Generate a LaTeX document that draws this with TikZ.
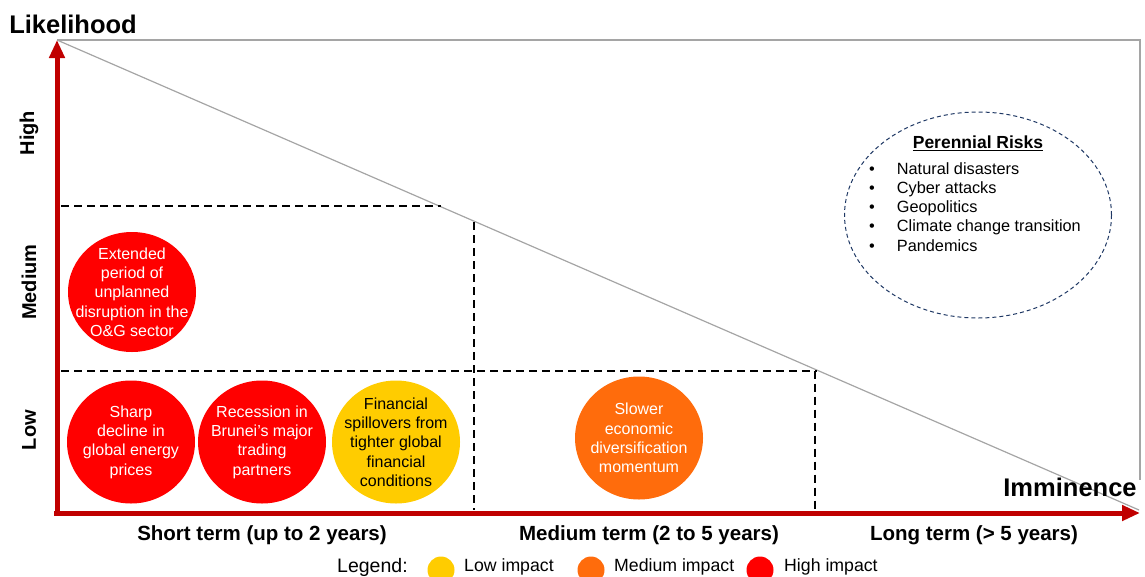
\documentclass[tikz,border=0pt]{standalone}
\usepackage{fontspec}
\setmainfont{Liberation Sans}
\usetikzlibrary{shapes.geometric, positioning, arrows.meta}
\definecolor{RiskRed}{RGB}{255,0,0}
\definecolor{RiskOrange}{RGB}{255,108,12}
\definecolor{RiskYellow}{RGB}{255,204,0}
\definecolor{AxisRed}{RGB}{192,0,0}
\definecolor{RiskNavy}{RGB}{31,56,100}
\definecolor{FrameGray}{RGB}{165,165,165}

\tikzset{
  risk/.style={ellipse, minimum width=128pt, minimum height=123pt,
               inner sep=0pt},
  highrisk/.style={risk, fill=RiskRed},
  midrisk/.style={risk, fill=RiskOrange},
  lowrisk/.style={risk, fill=RiskYellow},
  risktext/.style={align=center, inner sep=0pt,
                   font=\fontsize{16}{19.3}\selectfont},
  axisline/.style={AxisRed, line width=5pt,
                   -{Triangle[length=18pt,width=15pt]}},
  cellline/.style={line width=2pt, dash pattern=on 8pt off 5pt},
  levellabel/.style={rotate=90, font=\fontsize{20}{24}\selectfont\bfseries},
  termlabel/.style={font=\fontsize{20.5}{24}\selectfont\bfseries},
  axislabel/.style={font=\fontsize{25.5}{30}\selectfont\bfseries},
  keydot/.style={circle, minimum size=27pt, inner sep=0pt},
  keytext/.style={anchor=west, inner sep=0pt, font=\fontsize{17.7}{21}\selectfont}
}

\begin{document}
\begin{tikzpicture}[x=1pt, y=-1pt]
        \useasboundingbox (0,0) rectangle (1145,576);

        % frame and diagonal
        \coordinate (O) at (57,513);
        \coordinate (ytop) at (57,40);
        \coordinate (xend) at (1140,513);
        \coordinate (corner) at (1140,40);
        \draw[FrameGray, line width=1.2pt] (ytop) -- (corner) -- (1140,480);
        \draw[FrameGray, line width=1.2pt] (ytop) -- (1139,510);

        % grid of the matrix
        \draw[cellline] (61,205.5) -- (441,205.5);
        \draw[cellline] (61,370.5) -- (817,370.5);
        \draw[cellline] (474,222) -- (474,510);
        \draw[cellline] (815,370.5) -- (815,510);

        % axes
        \draw[axisline] (57,515) -- (ytop);
        \draw[axisline] (54,513) -- (xend);

        \node[axislabel] (like) at (73,24) {Likelihood};
        \node[axislabel] (imm) at (1070,487) {Imminence};

        \node[levellabel] (hi) at (29,133) {High};
        \node[levellabel] (me) at (29,282) {Medium};
        \node[levellabel] (lo) at (29,430) {Low};

        \node[termlabel] (st) at (262,535) {Short term (up to 2 years)};
        \node[termlabel] (mt) at (649,535) {Medium term (2 to 5 years)};
        \node[termlabel] (lt) at (974,535) {Long term (> 5 years)};

        % risks
        \node[highrisk, minimum height=120pt] (ogs) at (132,292) {};
        \node[risktext, text=white] (ogs-t) at (ogs)
              {Extended\\period of\\unplanned\\disruption in the\\O\&G sector};
        \node[highrisk] (oil) at (131,442) {};
        \node[risktext, text=white] (oil-t) at (oil)
              {Sharp\\decline in\\global energy\\prices};
        \node[highrisk] (rec) at (262,442) {};
        \node[risktext, text=white] (rec-t) at (rec)
              {Recession in\\Brunei’s major\\trading\\partners};
        \node[lowrisk] (fin) at (396,442) {};
        \node[risktext] (fin-t) at (fin)
              {Financial\\spillovers from\\tighter global\\financial\\conditions};
        \node[midrisk] (div) at (639,438) {};
        \node[risktext, text=white] (div-t) at (div)
              {Slower\\economic\\diversification\\momentum};

        % perennial risks
        \node[ellipse, draw=RiskNavy, line width=1pt, dash pattern=on 4pt off 3pt,
              minimum width=267pt, minimum height=206pt] (per) at (978,215) {};
        \node[font=\fontsize{17.5}{21}\selectfont\bfseries] (pertitle) at (978,143)
              {\underline{Perennial Risks}};
        \node[anchor=north west, align=left, inner sep=0pt,
              font=\fontsize{16.3}{19.3}\selectfont] (perlist) at (869,162)
              {\textbullet\hspace{22pt}Natural disasters\\
               \textbullet\hspace{22pt}Cyber attacks\\
               \textbullet\hspace{22pt}Geopolitics\\
               \textbullet\hspace{22pt}Climate change transition\\
               \textbullet\hspace{22pt}Pandemics};

        % legend
        \node[keytext, font=\fontsize{19.5}{23}\selectfont] (leg) at (337,567) {Legend:};
        \node[keydot, fill=RiskYellow] (klow) at (441,570) {};
        \node[keytext] (tlow) at (464,567) {Low impact};
        \node[keydot, fill=RiskOrange] (kmid) at (591,570) {};
        \node[keytext] (tmid) at (614,567) {Medium impact};
        \node[keydot, fill=RiskRed] (khigh) at (760,570) {};
        \node[keytext] (thigh) at (784,567) {High impact};
      \end{tikzpicture}
\end{document}
